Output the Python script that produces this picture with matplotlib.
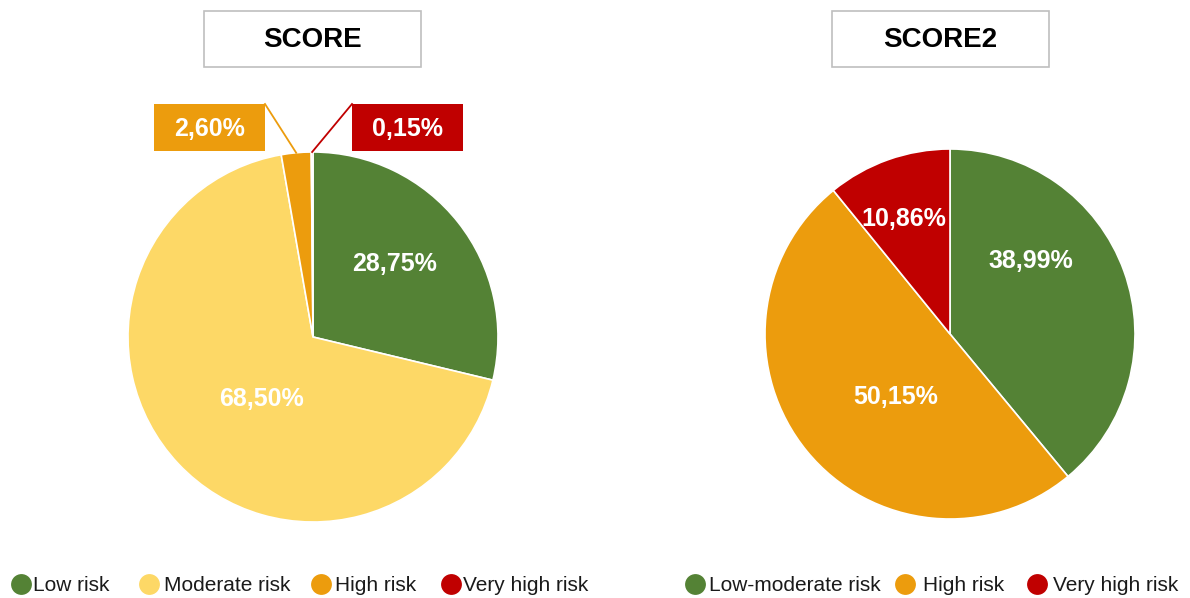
import matplotlib
matplotlib.use("Agg")
import matplotlib.pyplot as plt
from matplotlib.patches import Rectangle
import numpy as np

plt.rcParams["font.family"] = ["Liberation Sans", "DejaVu Sans"]

# Distribuição das categorias de risco (%)
SCORE_LABELS = ["Low risk", "Moderate risk", "High risk", "Very high risk"]
SCORE_VALUES = [28.75, 68.50, 2.60, 0.15]

SCORE2_LABELS = ["Low-moderate risk", "High risk", "Very high risk"]
SCORE2_VALUES = [38.99, 50.15, 10.86]

GREEN = "#548235"
YELLOW = "#FDD866"
ORANGE = "#EC9C0D"
RED = "#C00000"

SCORE_COLORS = [GREEN, YELLOW, ORANGE, RED]
SCORE2_COLORS = [GREEN, ORANGE, RED]

# Layout em pixels (eixo y invertido: origem no canto superior esquerdo)
W, H = 1190, 598
RADIUS = 185
PANELS = [
    dict(title="SCORE", labels=SCORE_LABELS, values=SCORE_VALUES,
         colors=SCORE_COLORS, center=(313, 337), title_box=(204, 11),
         inside={0: (82, -73), 1: (-52, 62)},
         # wedge -> (canto do box x, y, lado do conector)
         callouts={2: (154, 104, "right"), 3: (352, 104, "left")},
         legend_marker_x=[21, 149, 321, 451],
         legend_text_x=[33, 164, 335, 463]),
    dict(title="SCORE2", labels=SCORE2_LABELS, values=SCORE2_VALUES,
         colors=SCORE2_COLORS, center=(950, 334), title_box=(832, 11),
         inside={0: (81, -73), 1: (-54, 63), 2: (-46, -115)},
         callouts={},
         legend_marker_x=[695, 905, 1037],
         legend_text_x=[709, 923, 1053]),
]
TITLE_BOX_W, TITLE_BOX_H = 217, 56
CALLOUT_W, CALLOUT_H = 111, 47
LEGEND_MARKER_Y = 584
LEGEND_BASELINE_Y = 591


def fmt_pct(p):
    return f"{p:.2f}".replace(".", ",") + "%"


fig = plt.figure(figsize=(W / 100, H / 100), dpi=100)
ax = fig.add_axes([0, 0, 1, 1])

for panel in PANELS:
    cx, cy = panel["center"]
    # y invertido: startangle=-90 é o topo e counterclock=True gira no sentido horário
    wedges, _, autotexts = ax.pie(
        panel["values"], colors=panel["colors"], center=(cx, cy), radius=RADIUS,
        startangle=-90, counterclock=True, autopct=fmt_pct, normalize=True,
        wedgeprops=dict(edgecolor="white", linewidth=1.2),
        textprops=dict(color="white", fontsize=18, fontweight="bold"))

    for i, txt in enumerate(autotexts):
        txt.set_ha("center")
        txt.set_va("center")
        if i in panel["inside"]:
            dx, dy = panel["inside"][i]
            txt.set_position((cx + dx, cy + dy))
        elif i in panel["callouts"]:
            bx, by, side = panel["callouts"][i]
            w = wedges[i]
            ax.add_patch(Rectangle((bx, by), CALLOUT_W, CALLOUT_H,
                                   facecolor=w.get_facecolor(), edgecolor="none",
                                   zorder=3))
            txt.set_position((bx + CALLOUT_W / 2, by + CALLOUT_H / 2 + 1))
            txt.set_zorder(4)
            # conector: da borda externa do setor até o canto do box
            mid = np.deg2rad((w.theta1 + w.theta2) / 2)
            px, py = cx + RADIUS * np.cos(mid), cy + RADIUS * np.sin(mid)
            corner_x = bx + CALLOUT_W if side == "right" else bx
            ax.plot([px, corner_x], [py, by], color=w.get_facecolor(),
                    linewidth=1.3, zorder=2)
        else:
            txt.set_visible(False)

    # caixa do título
    tx, ty = panel["title_box"]
    ax.add_patch(Rectangle((tx, ty), TITLE_BOX_W, TITLE_BOX_H, facecolor="white",
                           edgecolor="#BFBFBF", linewidth=1.2))
    ax.text(tx + TITLE_BOX_W / 2, ty + TITLE_BOX_H / 2 + 1, panel["title"],
            ha="center", va="center", fontsize=20, fontweight="bold",
            color="black")

    # legenda
    for lab, col, mx, lx in zip(panel["labels"], panel["colors"],
                                panel["legend_marker_x"], panel["legend_text_x"]):
        ax.plot(mx, LEGEND_MARKER_Y, marker="o", markersize=15, color=col,
                markeredgewidth=0, clip_on=False)
        ax.text(lx, LEGEND_BASELINE_Y, lab, ha="left", va="baseline",
                fontsize=15, color="#1A1A1A")

ax.set_xlim(0, W)
ax.set_ylim(H, 0)
ax.set_aspect("equal")
ax.axis("off")

fig.savefig("out.png", dpi=100, facecolor="white")
